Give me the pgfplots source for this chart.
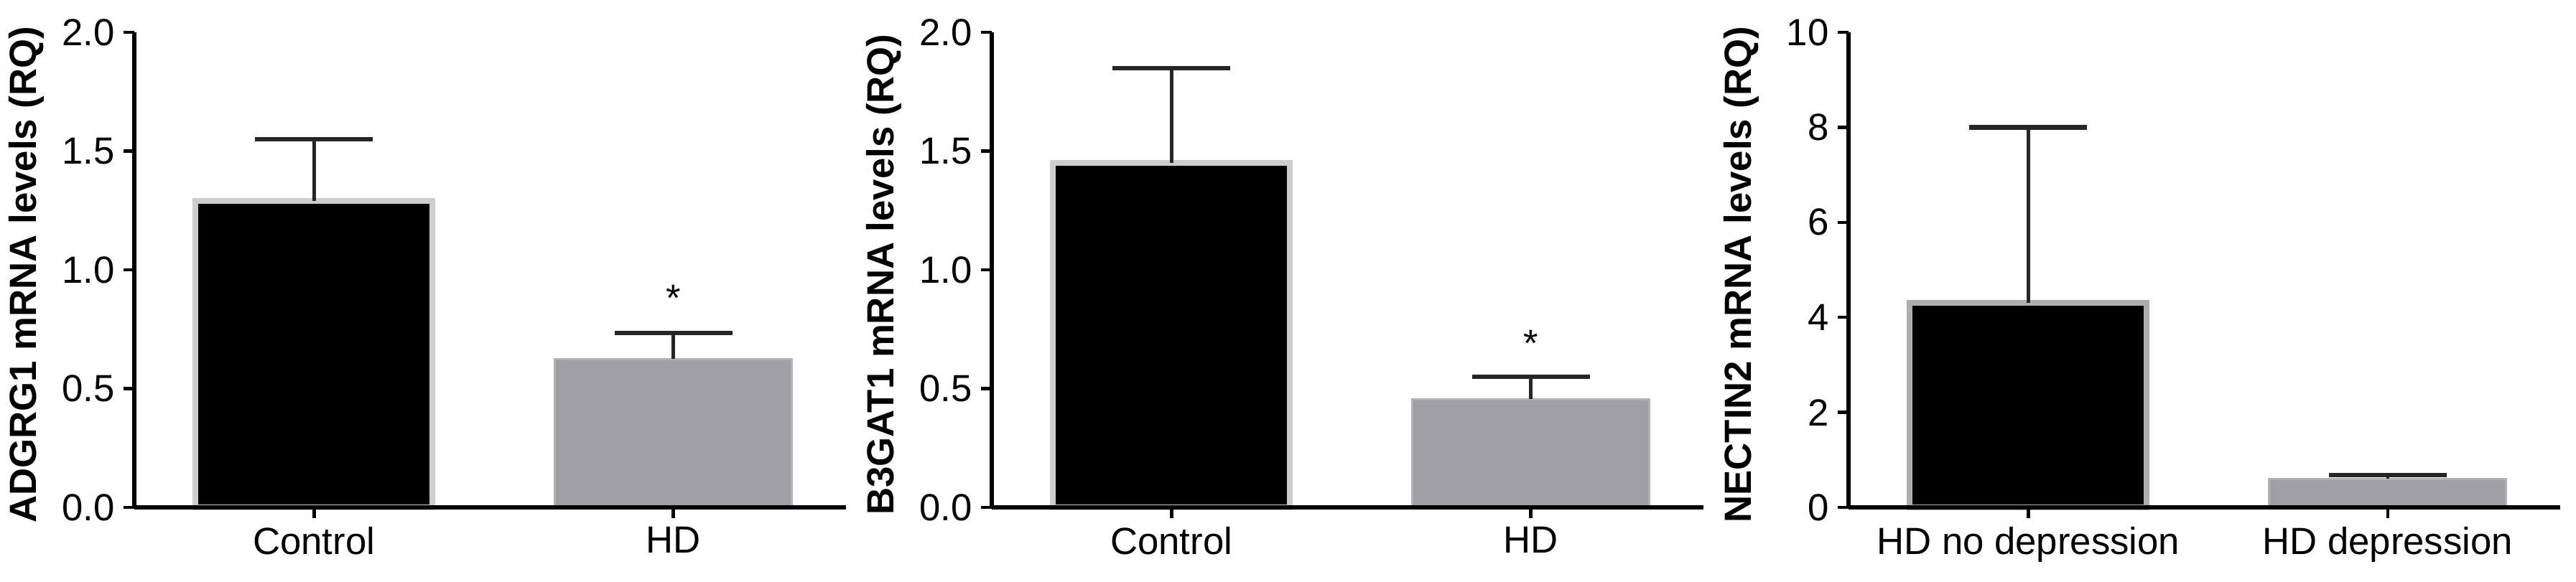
\documentclass[border=0pt]{standalone}
\usepackage{fontspec}
\setmainfont{Liberation Sans}
\usepackage{pgfplots}
\pgfplotsset{compat=1.18}

\definecolor{barblack}{RGB}{0,0,0}
\definecolor{bargrey}{RGB}{160,159,165}
\definecolor{edgelight}{RGB}{205,205,205}
\definecolor{edgegrey}{RGB}{178,177,181}

\pgfplotsset{
  rqpanel/.style={
    scale only axis,
    width=9.91cm, height=6.62cm,
    anchor=south west,
    axis x line=bottom, axis y line=left,
    axis line style={-, line width=1.6pt},
    axis on top,
    ybar, bar width=0.66,
    xmin=0.5, xmax=2.48, ymin=0,
    xtick={1,2},
    tick align=outside,
    major tick length=0.15cm,
    tick style={line width=1.3pt, black},
    ticklabel style={font=\fontsize{15}{18}\selectfont},
    /pgf/number format/assume math mode=true,
    ylabel style={font=\fontsize{15}{18}\selectfont\bfseries,
      at={(axis description cs:-0.151,0.49)}, anchor=center},
    clip=false,
  },
  errstyle/.style={
    error bars/.cd, y dir=plus, y explicit,
    error bar style={line width=1.3pt, black!85},
    error mark=|,
    error mark options={mark size=0.82cm, line width=1.8pt, black!85},
  },
}

\begin{document}
\begin{tikzpicture}
\useasboundingbox (0,-1.03) rectangle (35.87,7.07);

% ADGRG1
\begin{axis}[rqpanel, at={(1.87cm,0)},
  ymax=2, ytick={0,0.5,1.0,1.5,2.0},
  yticklabel style={/pgf/number format/.cd, fixed, fixed zerofill, precision=1},
  xticklabels={Control, HD},
  ylabel={ADGRG1 mRNA levels (RQ)}]
\addplot[fill=barblack, draw=edgelight, line width=0.08cm, bar shift=0pt,
  errstyle] coordinates {(1,1.29) +- (0,0.26)};
\addplot[fill=bargrey, draw=edgegrey, line width=0.03cm, bar shift=0pt,
  errstyle] coordinates {(2,0.625) +- (0,0.11)};
\node[font=\fontsize{15}{18}\selectfont] at (axis cs:2,0.88) {*};
\end{axis}

% B3GAT1
\begin{axis}[rqpanel, at={(13.81cm,0)},
  ymax=2, ytick={0,0.5,1.0,1.5,2.0},
  yticklabel style={/pgf/number format/.cd, fixed, fixed zerofill, precision=1},
  xticklabels={Control, HD},
  ylabel={B3GAT1 mRNA levels (RQ)}]
\addplot[fill=barblack, draw=edgelight, line width=0.08cm, bar shift=0pt,
  errstyle] coordinates {(1,1.45) +- (0,0.40)};
\addplot[fill=bargrey, draw=edgegrey, line width=0.03cm, bar shift=0pt,
  errstyle] coordinates {(2,0.455) +- (0,0.095)};
\node[font=\fontsize{15}{18}\selectfont] at (axis cs:2,0.69) {*};
\end{axis}

% NECTIN2
\begin{axis}[rqpanel, at={(25.74cm,0)},
  ymax=10, ytick={0,2,4,6,8,10},
  xticklabels={HD no depression, HD depression},
  ylabel={NECTIN2 mRNA levels (RQ)}]
\addplot[fill=barblack, draw=edgelight!85!black, line width=0.08cm, bar shift=0pt,
  errstyle] coordinates {(1,4.3) +- (0,3.7)};
\addplot[fill=bargrey, draw=edgegrey, line width=0.03cm, bar shift=0pt,
  errstyle] coordinates {(2,0.6) +- (0,0.08)};
\end{axis}
\end{tikzpicture}
\end{document}
